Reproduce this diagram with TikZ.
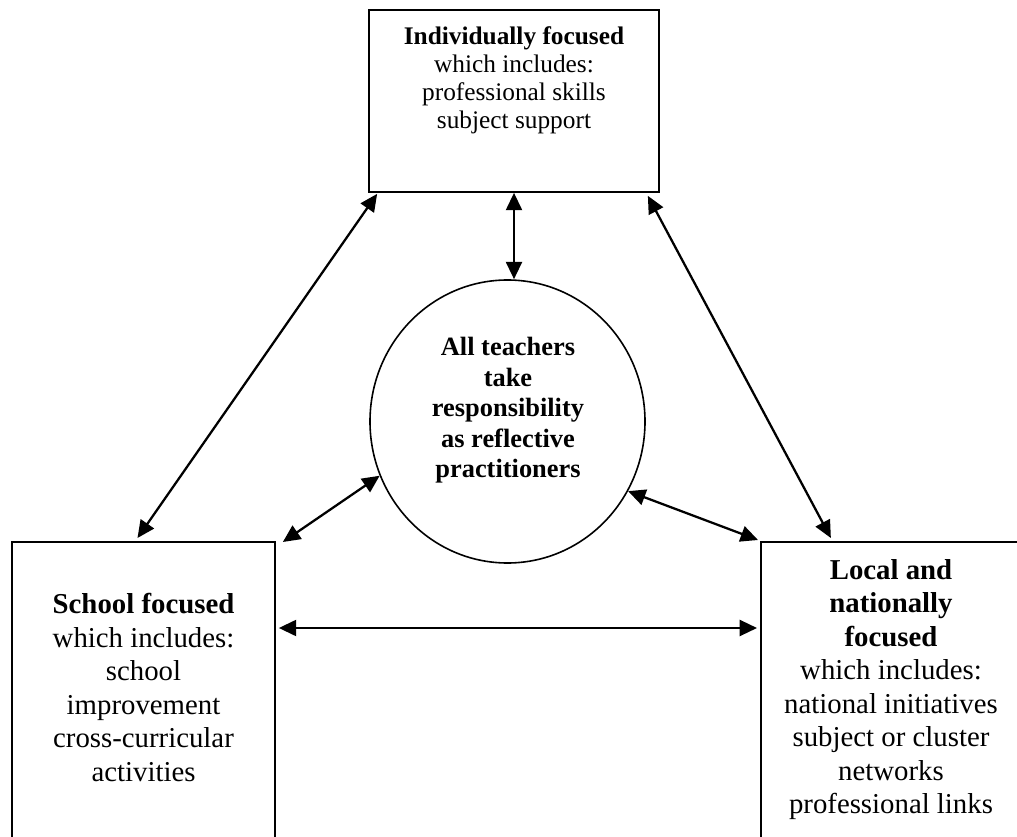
\documentclass[tikz,border=0pt]{standalone}
\usepackage{fontspec}
\setmainfont{Liberation Serif}
\usetikzlibrary{arrows.meta,shapes.geometric}

\tikzset{every picture/.style={line width=0.75pt}}
\tikzset{
  box/.style={draw,line width=1.3pt,inner sep=0pt},
  boxtext/.style={align=center,inner sep=0pt,anchor=north},
  link/.style={{Triangle[length=13pt,width=12pt]}-{Triangle[length=13pt,width=12pt]},line width=1.7pt}
}

\begin{document}
\begin{tikzpicture}[x=0.75pt,y=0.75pt,yscale=-1,xscale=1]
\useasboundingbox (0,0) rectangle (1017,837);
\clip (0,0) rectangle (1017,837);

%Shape: Rectangle [top]
\node [box,minimum width=217.5pt,minimum height=136.5pt] (indiv) at (514,101) {};
%Shape: Rectangle [left, runs off the page]
\node [box,anchor=north,minimum width=197.25pt,minimum height=270pt] (school) at (143.5,541) {};
%Shape: Rectangle [right, runs off the page]
\node [box,anchor=north west,minimum width=196.5pt,minimum height=270pt] (local) at (760,541) {};
%Shape: Ellipse [centre]
\node [draw,ellipse,line width=1.2pt,minimum width=206.25pt,minimum height=212.25pt,inner sep=0pt] (core) at (507.5,421.5) {};

% Text Node
\node [boxtext,font=\fontsize{19}{21}\selectfont] (indivtxt) at (514,26)
  {\textbf{Individually focused}\\which includes:\\professional skills\\subject support};
% Text Node
\node [boxtext,font=\fontsize{21.6}{25.1}\selectfont] (schooltxt) at (143.5,593)
  {\textbf{School focused}\\which includes:\\school\\improvement\\cross-curricular\\activities};
% Text Node
\node [boxtext,font=\fontsize{21.6}{25.1}\selectfont] (localtxt) at (891,559)
  {\textbf{Local and}\\\textbf{nationally}\\\textbf{focused}\\which includes:\\national initiatives\\subject or cluster\\networks\\professional links};
% Text Node
\node [boxtext,font=\fontsize{19.8}{22.9}\selectfont\bfseries] (coretxt) at (508,337)
  {All teachers\\take\\responsibility\\as reflective\\practitioners};

%Straight Lines
\draw [link] ([shift={(9,1)}]indiv.south west) -- ([shift={(-6,-3)}]school.north);
\draw [link] ([shift={(-12,3)}]indiv.south east) -- ([shift={(-61,-3)}]local.north);
\draw [link] (indiv.south) -- (indiv.south |- core.north);
\draw [link] (core.203) -- ([shift={(7,1)}]school.north east);
\draw [link] (core.-30) -- ([shift={(-2,-1)}]local.north west);
\draw [link] ([shift={(3,87)}]school.north east) -- ([shift={(-3,87)}]local.north west);
\end{tikzpicture}
\end{document}
